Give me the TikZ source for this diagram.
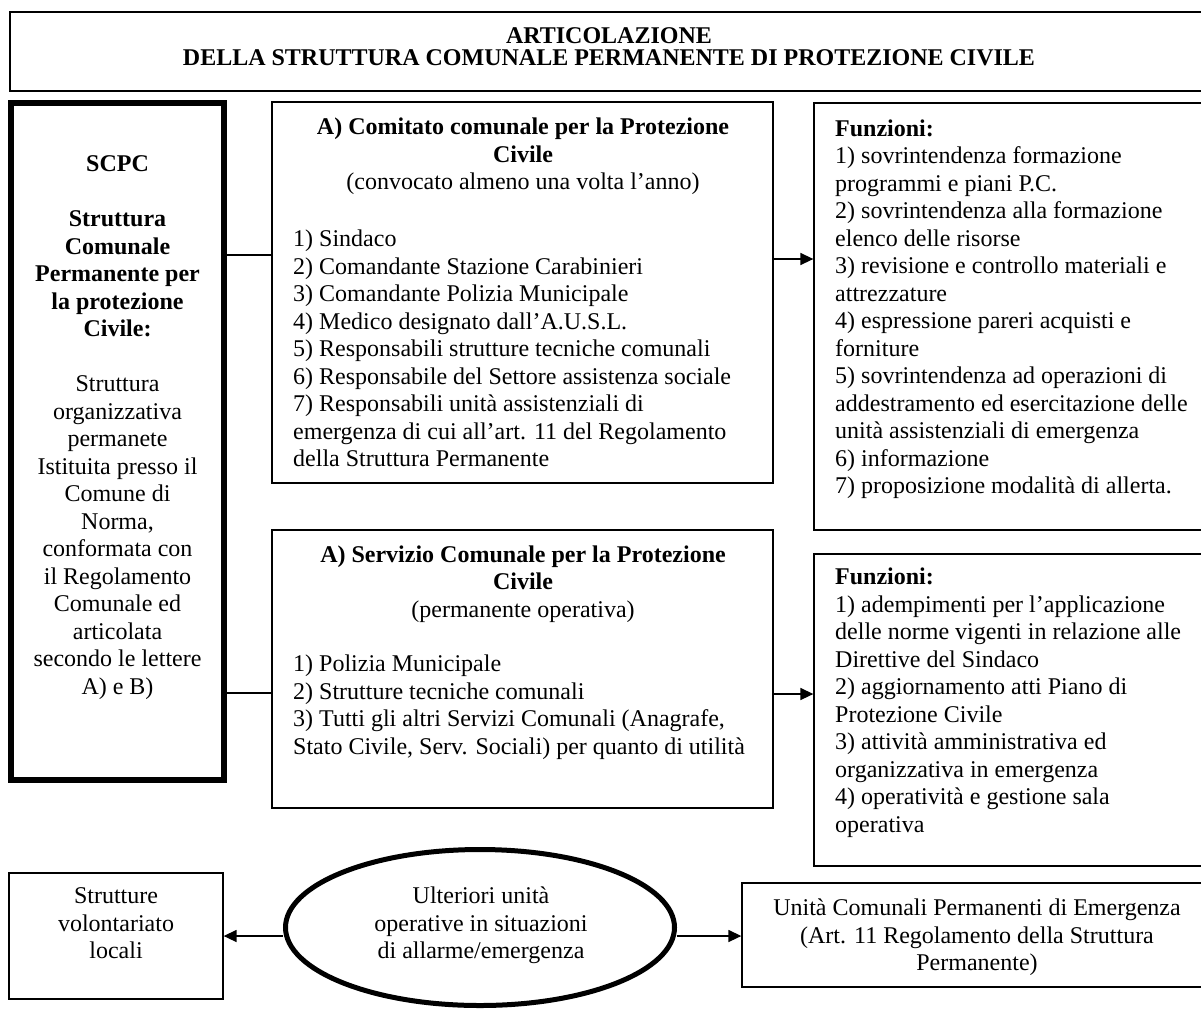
\documentclass[tikz,border=0pt]{standalone}
\usepackage{fontspec}
\setmainfont{Liberation Serif}
\usetikzlibrary{arrows.meta,shapes.geometric}
\begin{document}
\begin{tikzpicture}[x=1pt,y=-1pt,
  box/.style={draw, line width=1.3pt, rectangle, inner sep=0pt},
  body/.style={inner sep=0pt, font=\fontsize{24}{27.5}\selectfont},
  conn/.style={line width=1.5pt},
  arr/.style={line width=1.5pt, -{Triangle[length=13pt,width=12pt]}}]
\clip (0,0) rectangle (1201,1010);
\fill[white] (0,0) rectangle (1201,1010);

% boxes
\node[box, minimum width=1200pt, minimum height=79pt] (title) at (610,51.5) {};
\node[box, line width=6pt, minimum width=213pt, minimum height=677pt] (scpc) at (117.5,441.5) {};
\node[box, minimum width=501pt, minimum height=381pt] (comitato) at (522.5,292.5) {};
\node[box, minimum width=501pt, minimum height=278pt] (servizio) at (522.5,669) {};
\node[box, minimum width=396pt, minimum height=427pt] (funz1) at (1012,316.5) {};
\node[box, minimum width=396pt, minimum height=312pt] (funz2) at (1012,710) {};
\node[box, minimum width=214pt, minimum height=126pt] (strut) at (116,936) {};
\node[draw, ellipse, line width=5pt, inner sep=0pt, minimum width=389pt, minimum height=156pt] (ell) at (480,927.5) {};
\node[box, minimum width=468pt, minimum height=104pt] (unita) at (976,935) {};

% texts
\node[inner sep=0pt, align=center, font=\fontsize{24}{22}\selectfont\bfseries] (titletxt) at (609,46.5)
  {ARTICOLAZIONE\\DELLA STRUTTURA COMUNALE PERMANENTE DI PROTEZIONE CIVILE};

\node[body, align=center] (scpctxt) at (117.5,427.5)
  {\textbf{SCPC}\\\mbox{}\\\textbf{Struttura}\\\textbf{Comunale}\\\textbf{Permanente per}\\\textbf{la protezione}\\\textbf{Civile:}\\\mbox{}\\
   Struttura\\organizzativa\\permanete\\Istituita presso il\\Comune di\\Norma,\\conformata con\\il Regolamento\\Comunale ed\\articolata\\secondo le lettere\\A) e B)};

\node[body, align=center] (comhead) at (523,156.5)
  {\textbf{A) Comitato comunale per la Protezione}\\\textbf{Civile}\\(convocato almeno una volta l’anno)};
\node[body, align=left, anchor=west] (comlist) at (293,348.5)
  {1) Sindaco\\2) Comandante Stazione Carabinieri\\3) Comandante Polizia Municipale\\4) Medico designato dall’A.U.S.L.\\
   5) Responsabili strutture tecniche comunali\\6) Responsabile del Settore assistenza sociale\\
   7) Responsabili unità assistenziali di\\emergenza di cui all’art. 11 del Regolamento\\della Struttura Permanente};

\node[body, align=center] (serhead) at (523,584)
  {\textbf{A) Servizio Comunale per la Protezione}\\\textbf{Civile}\\(permanente operativa)};
\node[body, align=left, anchor=west] (serlist) at (293,707)
  {1) Polizia Municipale\\2) Strutture tecniche comunali\\3) Tutti gli altri Servizi Comunali (Anagrafe,\\Stato Civile, Serv. Sociali) per quanto di utilità};

\node[body, align=left, anchor=west] (f1txt) at (835,309)
  {\textbf{Funzioni:}\\1) sovrintendenza formazione\\programmi e piani P.C.\\2) sovrintendenza alla formazione\\elenco delle risorse\\
   3) revisione e controllo materiali e\\attrezzature\\4) espressione pareri acquisti e\\forniture\\
   5) sovrintendenza ad operazioni di\\addestramento ed esercitazione delle\\unità assistenziali di emergenza\\6) informazione\\7) proposizione modalità di allerta.};

\node[body, align=left, anchor=west] (f2txt) at (835,702.5)
  {\textbf{Funzioni:}\\1) adempimenti per l’applicazione\\delle norme vigenti in relazione alle\\Direttive del Sindaco\\
   2) aggiornamento atti Piano di\\Protezione Civile\\3) attività amministrativa ed\\organizzativa in emergenza\\
   4) operatività e gestione sala\\operativa};

\node[body, align=center] (struttxt) at (116,923.5) {Strutture\\volontariato\\locali};
\node[body, align=center] (elltxt) at (481,925.5) {Ulteriori unità\\operative in situazioni\\di allarme/emergenza};
\node[body, align=center] (unitatxt) at (977,937.5) {Unità Comunali Permanenti di Emergenza\\(Art. 11 Regolamento della Struttura\\Permanente)};

% connectors
\coordinate (j1) at (0,255);
\coordinate (j2) at (0,259);
\coordinate (j3) at (0,693);
\coordinate (j4) at (0,694);
\coordinate (j5) at (0,936);
\draw[conn] (scpc.east |- j1) -- (comitato.west |- j1);
\draw[arr] (comitato.east |- j2) -- (funz1.west |- j2);
\draw[conn] (scpc.east |- j3) -- (servizio.west |- j3);
\draw[arr] (servizio.east |- j4) -- (funz2.west |- j4);
\draw[arr] (ell.west |- j5) -- (strut.east |- j5);
\draw[arr] (ell.east |- j5) -- (unita.west |- j5);
\end{tikzpicture}
\end{document}
